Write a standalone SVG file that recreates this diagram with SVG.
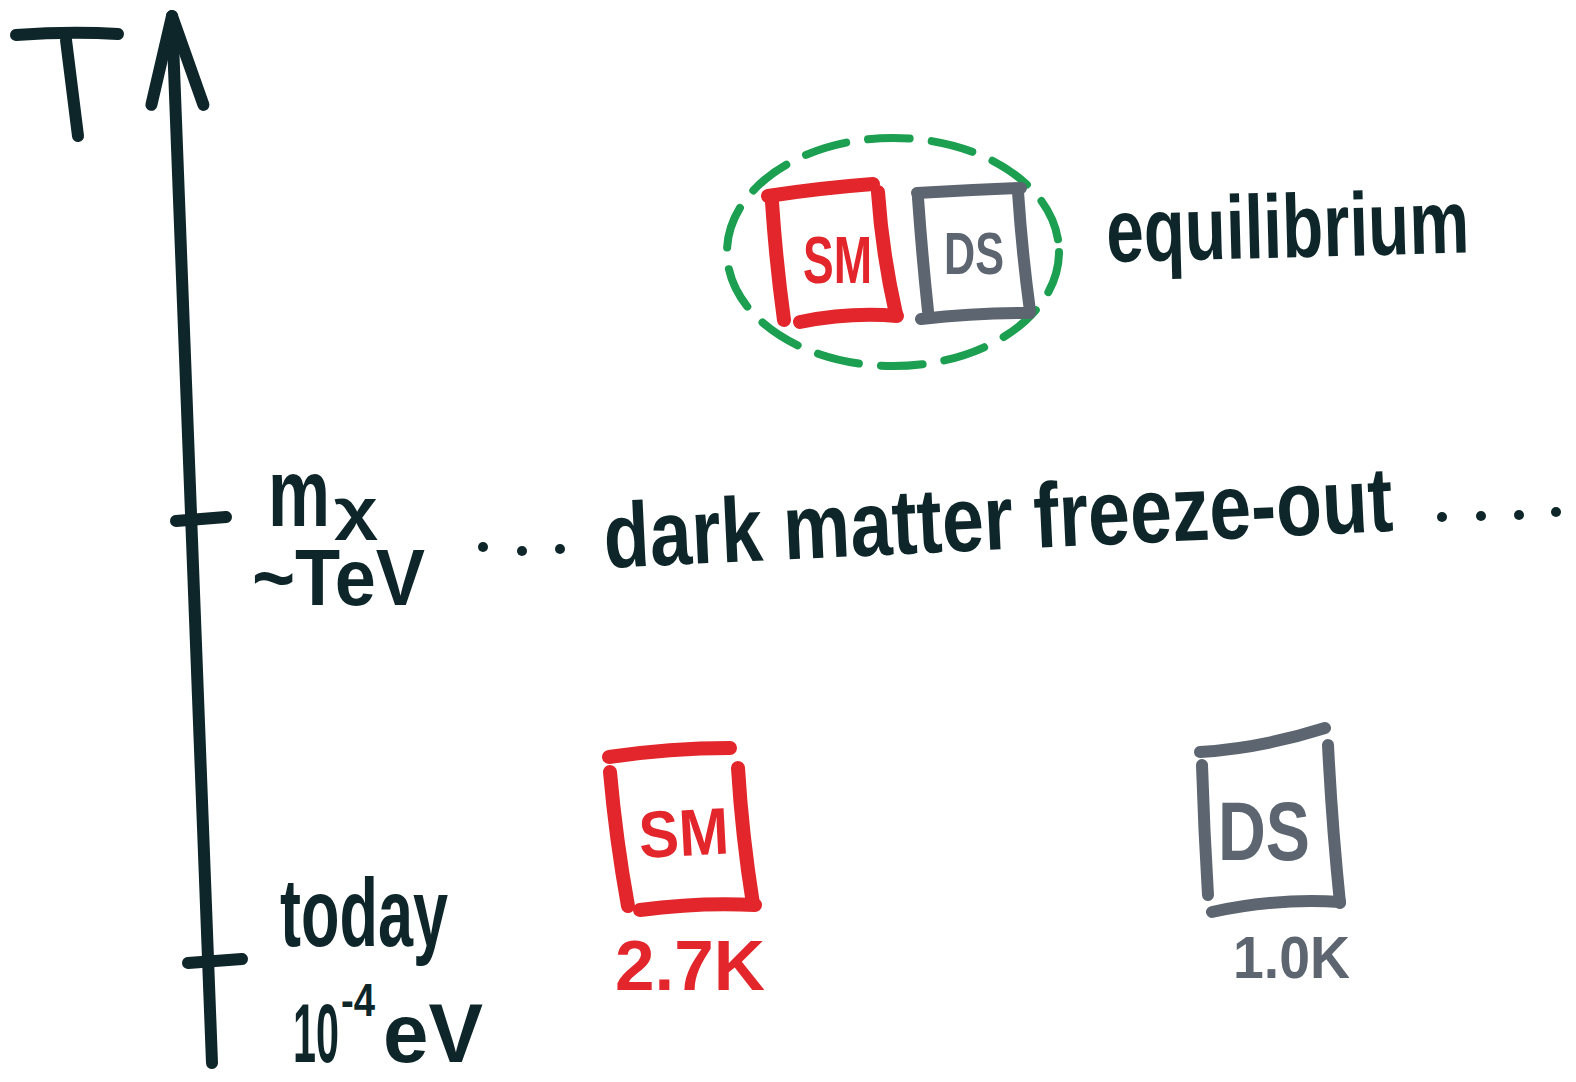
<svg xmlns="http://www.w3.org/2000/svg" width="1576" height="1082" viewBox="0 0 1576 1082">
  <style>
    .ink { fill: none; stroke: #0e2629; stroke-width: 12; stroke-linecap: round; stroke-linejoin: round; }
    .red { fill: none; stroke: #e2262b; stroke-width: 14; stroke-linecap: round; stroke-linejoin: round; }
    .gray { fill: none; stroke: #5c6570; stroke-width: 12; stroke-linecap: round; stroke-linejoin: round; }
    .green { fill: none; stroke: #1c9f50; stroke-width: 8; stroke-linecap: round; stroke-dasharray: 42 22; }
    .t { font-family: "Liberation Sans", "DejaVu Sans", sans-serif; font-weight: 700; }
    .tink { fill: #0e2629; }
    .tred { fill: #e2262b; }
    .tgray { fill: #5c6570; }
    .dot { fill: #0e2629; }
  </style>
  <defs>
    <marker id="arrowhead" markerUnits="userSpaceOnUse" viewBox="-110 -50 130 100" markerWidth="130" markerHeight="100" refX="0" refY="0" orient="auto">
      <path d="M -88 -24 L 0 0 L -90 28" fill="none" stroke="#0e2629" stroke-width="12" stroke-linecap="round" stroke-linejoin="round"/>
    </marker>
  </defs>
  <rect width="1576" height="1082" fill="#ffffff"/>

  <g id="connectors">
    <path id="axis" class="ink" d="M 212 1063 L 192 540 L 172 16" marker-end="url(#arrowhead)"/>
  </g>

  <g id="label-T">
    <path class="ink" d="M 16 35 Q 70 31 118 34" stroke-width="13"/>
    <path class="ink" d="M 66 40 L 78 136" stroke-width="14"/>
  </g>

  <g id="tick-mx">
    <path class="ink" d="M 176 521 L 226 517" stroke-width="9"/>
    <text class="t tink" x="268" y="526" font-size="96" textLength="62" lengthAdjust="spacingAndGlyphs" font-weight="400">m</text>
    <text class="t tink" x="334" y="528" font-size="56" textLength="44" lengthAdjust="spacingAndGlyphs">χ</text>
    <text class="t tink" x="252" y="605" font-size="80" textLength="173" lengthAdjust="spacingAndGlyphs">~TeV</text>
  </g>

  <g id="tick-today">
    <path class="ink" d="M 188 963 L 242 959" stroke-width="9"/>
    <text class="t tink" x="280" y="946" font-size="96" textLength="168" lengthAdjust="spacingAndGlyphs">today</text>
    <text class="t tink" x="293" y="1062" font-size="84" textLength="46" lengthAdjust="spacingAndGlyphs">10</text>
    <text class="t tink" x="341" y="1016" font-size="46" textLength="34" lengthAdjust="spacingAndGlyphs">-4</text>
    <text class="t tink" x="383" y="1062" font-size="84" textLength="100" lengthAdjust="spacingAndGlyphs">eV</text>
  </g>

  <g id="equilibrium">
    <ellipse class="green" cx="893" cy="252" rx="166" ry="114"/>
    <g id="sm-equilibrium">
      <path class="red" d="M 768 196 Q 820 188 873 184"/>
      <path class="red" d="M 772 202 Q 776 262 784 320"/>
      <path class="red" d="M 878 192 Q 882 252 896 314"/>
      <path class="red" d="M 800 322 Q 850 312 897 316"/>
      <text class="t tred" x="803" y="283" font-size="66" textLength="69" lengthAdjust="spacingAndGlyphs">SM</text>
    </g>
    <g id="ds-equilibrium">
      <path class="gray" d="M 917 193 Q 970 190 1021 188"/>
      <path class="gray" d="M 918 198 Q 922 255 928 311"/>
      <path class="gray" d="M 1018 192 Q 1022 252 1030 311"/>
      <path class="gray" d="M 921 319 Q 975 313 1030 313"/>
      <text class="t tgray" x="944" y="274" font-size="60" textLength="60" lengthAdjust="spacingAndGlyphs">DS</text>
    </g>
    <text class="t tink" x="1107" y="262" font-size="90" textLength="363" lengthAdjust="spacingAndGlyphs" transform="rotate(-1.5 1107 262)">equilibrium</text>
  </g>

  <g id="freeze-out">
    <circle class="dot" cx="483" cy="547" r="5"/>
    <circle class="dot" cx="522" cy="551" r="5"/>
    <circle class="dot" cx="560" cy="549" r="5"/>
    <text class="t tink" x="605" y="568" font-size="92" textLength="790" lengthAdjust="spacingAndGlyphs" transform="rotate(-2.7 605 568)">dark matter freeze-out</text>
    <circle class="dot" cx="1442" cy="517" r="5"/>
    <circle class="dot" cx="1481" cy="516" r="5"/>
    <circle class="dot" cx="1519" cy="515" r="5"/>
    <circle class="dot" cx="1556" cy="512" r="5"/>
  </g>

  <g id="sm-today">
    <path class="red" d="M 609 757 Q 670 748 730 748"/>
    <path class="red" d="M 610 772 Q 616 840 628 906"/>
    <path class="red" d="M 738 768 Q 742 835 753 904"/>
    <path class="red" d="M 640 910 Q 700 902 755 905"/>
    <text class="t tred" x="640" y="858" font-size="66" textLength="90" lengthAdjust="spacingAndGlyphs" transform="rotate(-3 640 858)">SM</text>
    <text class="t tred" x="615" y="990" font-size="70" textLength="150" lengthAdjust="spacingAndGlyphs">2.7K</text>
  </g>

  <g id="ds-today">
    <path class="gray" d="M 1200 752 Q 1262 748 1325 728"/>
    <path class="gray" d="M 1202 765 Q 1204 830 1208 895"/>
    <path class="gray" d="M 1328 745 Q 1332 825 1340 903"/>
    <path class="gray" d="M 1212 912 Q 1275 898 1340 902"/>
    <text class="t tgray" x="1218" y="860" font-size="84" textLength="92" lengthAdjust="spacingAndGlyphs">DS</text>
    <text class="t tgray" x="1233" y="978" font-size="60" textLength="117" lengthAdjust="spacingAndGlyphs">1.0K</text>
  </g>
</svg>
